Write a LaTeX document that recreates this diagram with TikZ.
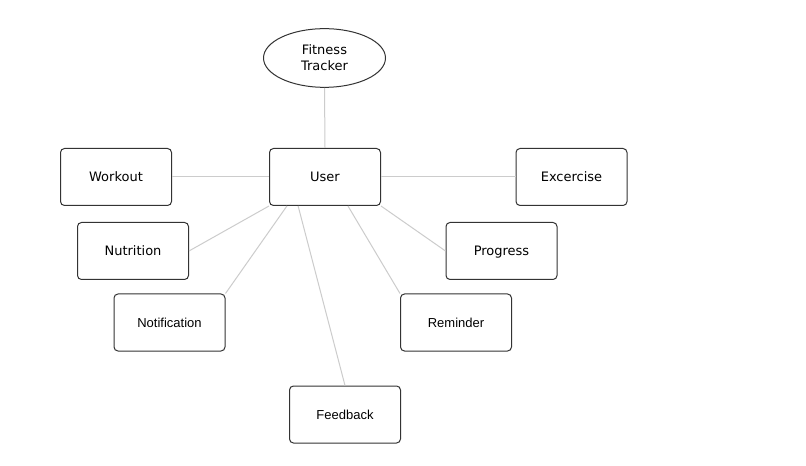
\documentclass[tikz,border=0pt]{standalone}
\usepackage{fontspec}
\setmainfont{DejaVu Sans}
\newfontfamily\arialfont{Liberation Sans}
\usetikzlibrary{shapes.geometric,calc}
\definecolor{edgegray}{HTML}{CCCCCC}
\definecolor{bordergray}{HTML}{333333}
\tikzset{
  entity/.style={draw=bordergray, line width=0.75pt, rounded corners=3pt, minimum width=83.25pt, minimum height=42.75pt, inner sep=0pt, text height=9pt, text depth=1.5pt, font=\fontsize{9.75pt}{11.5pt}\selectfont},
  arialentity/.style={entity, font=\arialfont\fontsize{9.75pt}{11.5pt}\selectfont},
  root/.style={draw=bordergray, line width=0.75pt, ellipse, minimum width=91.5pt, minimum height=44pt, inner sep=0pt, align=center, font=\fontsize{9.75pt}{12pt}\selectfont},
  link/.style={draw=edgegray, line width=0.75pt}
}
\begin{document}
\begin{tikzpicture}[x=0.75pt,y=-0.75pt]
\useasboundingbox (0,0) rectangle (806,466);
\fill[white] (0,0) rectangle (806,466);
\node[root] (fitness) at (324.5,58) {Fitness\\Tracker};
\node[entity] (user) at (325,177) {User};
\node[entity] (workout) at (116,177) {Workout};
\node[entity] (excercise) at (571.5,177) {Excercise};
\node[entity] (nutrition) at (133,251) {Nutrition};
\node[entity] (progress) at (501.5,251) {Progress};
\node[arialentity] (notification) at (169.5,322.5) {Notification};
\node[arialentity] (reminder) at (456,322.5) {Reminder};
\node[arialentity] (feedback) at (345,414.5) {Feedback};
\draw[link] (fitness.south) -- (user.north);
\draw[link] (workout.east) -- (user.west);
\draw[link] (user.east) -- (excercise.west);
\draw[link] (nutrition.east) -- (user.south west);
\draw[link] (notification.north east) -- ($(user.south west)!0.16!(user.south east)$);
\draw[link] (feedback.north) -- ($(user.south west)!0.26!(user.south east)$);
\draw[link] (reminder.north west) -- ($(user.south west)!0.705!(user.south east)$);
\draw[link] (progress.west) -- (user.south east);
\end{tikzpicture}
\end{document}
